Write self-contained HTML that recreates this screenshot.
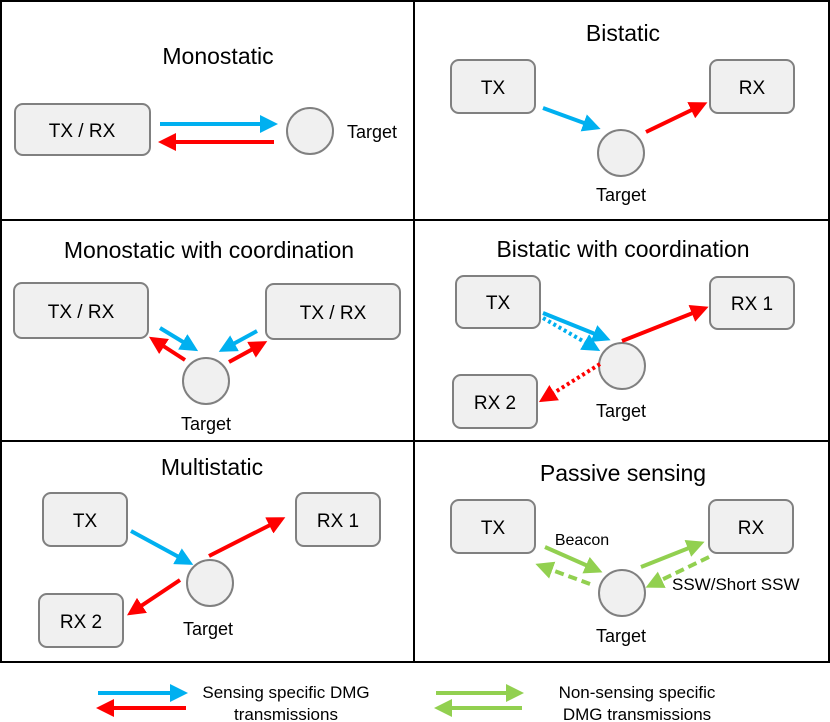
<!DOCTYPE html>
<html><head><style>body{margin:0;background:#fff}svg{display:block}text{font-family:"Liberation Sans",Arial,sans-serif;fill:#000}</style></head>
<body>
<svg width="830" height="722" viewBox="0 0 830 722" xmlns="http://www.w3.org/2000/svg">
<defs>
<marker id="b" markerWidth="4.5" markerHeight="4.5" refX="3" refY="2.25" orient="auto" markerUnits="strokeWidth"><path d="M0,0 L4.5,2.25 L0,4.5z" fill="#00b0f0"/></marker>
<marker id="r" markerWidth="4.5" markerHeight="4.5" refX="3" refY="2.25" orient="auto" markerUnits="strokeWidth"><path d="M0,0 L4.5,2.25 L0,4.5z" fill="#ff0000"/></marker>
<marker id="g" markerWidth="4.5" markerHeight="4.5" refX="3" refY="2.25" orient="auto" markerUnits="strokeWidth"><path d="M0,0 L4.5,2.25 L0,4.5z" fill="#92d050"/></marker>
</defs>
<g fill="none" stroke="#000" stroke-width="2">
<rect x="1" y="1" width="828" height="661"/>
<line x1="414" y1="1" x2="414" y2="662"/>
<line x1="1" y1="220" x2="829" y2="220"/>
<line x1="1" y1="441" x2="829" y2="441"/>
</g>
<g fill="#f0f0f0" stroke="#808080" stroke-width="2">
<rect x="15" y="104" width="135" height="51" rx="8"/>
<circle cx="310" cy="131" r="23"/>
<rect x="451" y="60" width="84" height="53" rx="8"/>
<rect x="710" y="60" width="84" height="53" rx="8"/>
<circle cx="621" cy="153" r="23"/>
<rect x="14" y="283" width="134" height="55" rx="8"/>
<rect x="266" y="284" width="134" height="55" rx="8"/>
<circle cx="206" cy="381" r="23"/>
<rect x="456" y="276" width="84" height="52" rx="8"/>
<rect x="710" y="277" width="84" height="52" rx="8"/>
<rect x="453" y="375" width="84" height="53" rx="8"/>
<circle cx="622" cy="366" r="23"/>
<rect x="43" y="493" width="84" height="53" rx="8"/>
<rect x="296" y="493" width="84" height="53" rx="8"/>
<rect x="39" y="594" width="84" height="53" rx="8"/>
<circle cx="210" cy="583" r="23"/>
<rect x="451" y="500" width="84" height="53" rx="8"/>
<rect x="709" y="500" width="84" height="53" rx="8"/>
<circle cx="622" cy="593" r="23"/>
</g>
<g stroke-width="4" fill="none">
<line x1="160" y1="124" x2="272" y2="124" stroke="#00b0f0" marker-end="url(#b)"/>
<line x1="274" y1="142" x2="164" y2="142" stroke="#ff0000" marker-end="url(#r)"/>
<line x1="543" y1="108" x2="595" y2="127" stroke="#00b0f0" marker-end="url(#b)"/>
<line x1="646" y1="132" x2="702" y2="105" stroke="#ff0000" marker-end="url(#r)"/>
<line x1="160" y1="328" x2="193" y2="348" stroke="#00b0f0" marker-end="url(#b)"/>
<line x1="185" y1="360" x2="154" y2="340" stroke="#ff0000" marker-end="url(#r)"/>
<line x1="257" y1="331" x2="224" y2="349" stroke="#00b0f0" marker-end="url(#b)"/>
<line x1="229" y1="362" x2="262" y2="344" stroke="#ff0000" marker-end="url(#r)"/>
<line x1="543" y1="313" x2="605" y2="338" stroke="#00b0f0" marker-end="url(#b)"/>
<line x1="543" y1="318" x2="595" y2="348" stroke="#00b0f0" stroke-dasharray="3,3" marker-end="url(#b)"/>
<line x1="622" y1="341" x2="703" y2="309" stroke="#ff0000" marker-end="url(#r)"/>
<line x1="600" y1="364" x2="544" y2="399" stroke="#ff0000" stroke-dasharray="3,3" marker-end="url(#r)"/>
<line x1="131" y1="531" x2="188" y2="562" stroke="#00b0f0" marker-end="url(#b)"/>
<line x1="209" y1="556" x2="280" y2="520" stroke="#ff0000" marker-end="url(#r)"/>
<line x1="180" y1="580" x2="132" y2="612" stroke="#ff0000" marker-end="url(#r)"/>
<line x1="545" y1="547" x2="597" y2="570" stroke="#92d050" marker-end="url(#g)"/>
<line x1="590" y1="584" x2="541" y2="566" stroke="#92d050" stroke-dasharray="9,5" marker-end="url(#g)"/>
<line x1="641" y1="567" x2="699" y2="544" stroke="#92d050" marker-end="url(#g)"/>
<line x1="709" y1="557" x2="651" y2="585" stroke="#92d050" stroke-dasharray="9,5" marker-end="url(#g)"/>
<line x1="98" y1="693" x2="182" y2="693" stroke="#00b0f0" marker-end="url(#b)"/>
<line x1="186" y1="708" x2="102" y2="708" stroke="#ff0000" marker-end="url(#r)"/>
<line x1="436" y1="693" x2="518" y2="693" stroke="#92d050" marker-end="url(#g)"/>
<line x1="522" y1="708" x2="440" y2="708" stroke="#92d050" marker-end="url(#g)"/>
</g>
<g font-size="23" text-anchor="middle">
<text x="218" y="64">Monostatic</text>
<text x="623" y="41">Bistatic</text>
<text x="209" y="258">Monostatic with coordination</text>
<text x="623" y="257">Bistatic with coordination</text>
<text x="212" y="475">Multistatic</text>
<text x="623" y="481">Passive sensing</text>
</g>
<g font-size="19" text-anchor="middle">
<text x="82" y="137">TX / RX</text>
<text x="493" y="94">TX</text>
<text x="752" y="94">RX</text>
<text x="81" y="318">TX / RX</text>
<text x="333" y="319">TX / RX</text>
<text x="498" y="309">TX</text>
<text x="752" y="310">RX 1</text>
<text x="495" y="409">RX 2</text>
<text x="85" y="527">TX</text>
<text x="338" y="527">RX 1</text>
<text x="81" y="628">RX 2</text>
<text x="493" y="534">TX</text>
<text x="751" y="534">RX</text>
</g>
<g font-size="18" text-anchor="middle">
<text x="372" y="138">Target</text>
<text x="621" y="201">Target</text>
<text x="206" y="430">Target</text>
<text x="621" y="417">Target</text>
<text x="208" y="635">Target</text>
<text x="621" y="642">Target</text>
</g>
<text x="582" y="545" font-size="16" text-anchor="middle">Beacon</text>
<text x="672" y="590" font-size="17">SSW/Short SSW</text>
<g font-size="17" text-anchor="middle">
<text x="286" y="698">Sensing specific DMG</text>
<text x="286" y="720">transmissions</text>
<text x="637" y="698">Non-sensing specific</text>
<text x="637" y="720">DMG transmissions</text>
</g>
</svg>
</body></html>
